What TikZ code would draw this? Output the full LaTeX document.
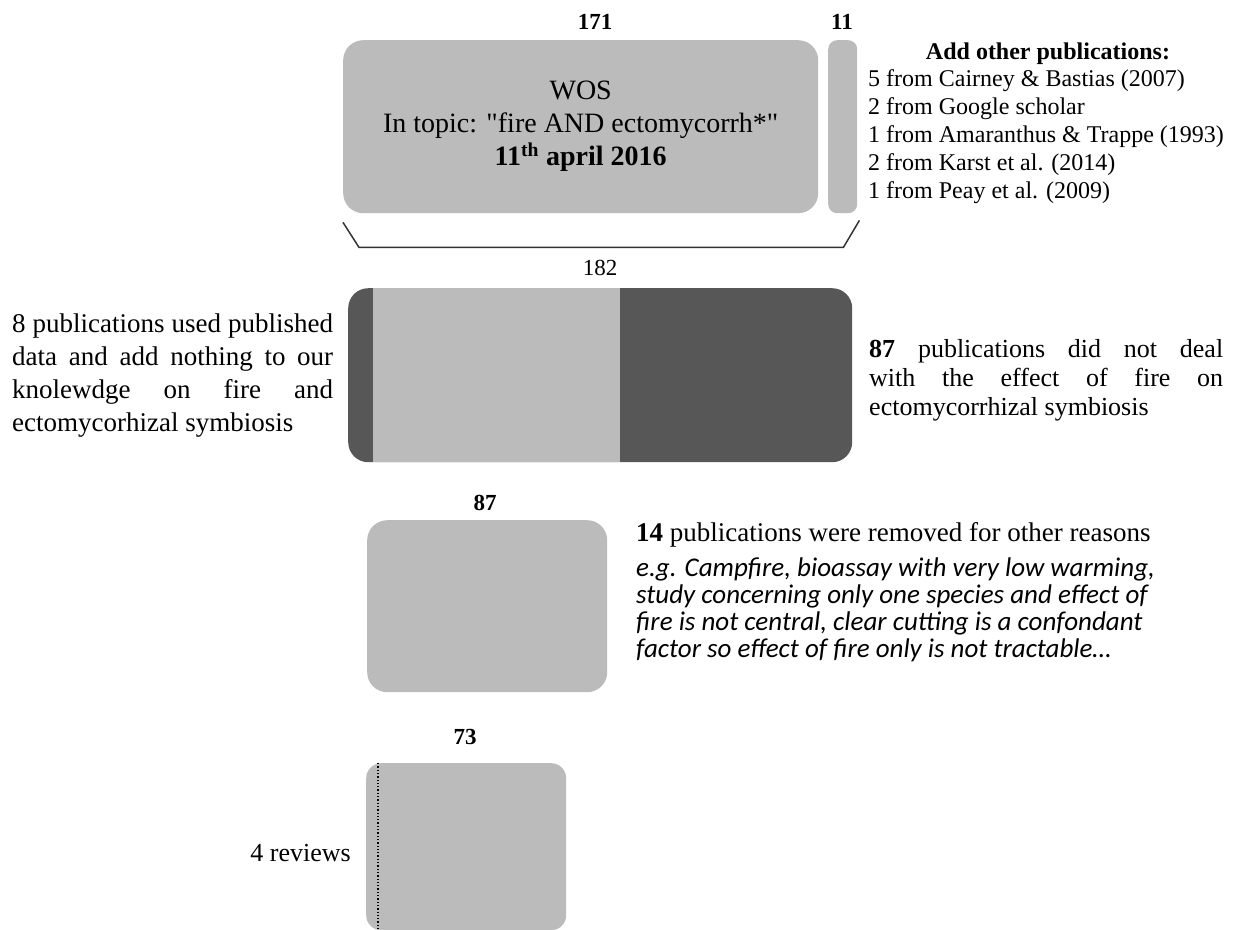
\documentclass[tikz,border=0pt]{standalone}
\usepackage{fontspec}
\setmainfont{Liberation Serif}
\newfontfamily\notefont{Carlito}
\usetikzlibrary{positioning,calc}
\definecolor{barlight}{HTML}{BBBBBB}
\definecolor{bardark}{HTML}{575757}

\begin{document}
\begin{tikzpicture}[x=1pt,y=-1pt,
  bar/.style={fill=barlight, rounded corners=20pt, inner sep=0pt, anchor=north west},
  num/.style={font=\bfseries\fontsize{23}{27}\selectfont, inner sep=0pt},
  note/.style={font=\fontsize{27}{33}\selectfont, align=justify, inner sep=0pt, anchor=west},
  srclist/.style={font=\fontsize{24}{28}\selectfont, align=left, inner sep=0pt, anchor=west},
  brace/.style={line width=1.5pt, black!80}]
\useasboundingbox (0,0) rectangle (1234,929);
% ----- search
\node[bar, minimum width=475pt, minimum height=173pt, align=center, font=\fontsize{28}{33}\selectfont] (wos) at (343,40) {WOS\\In topic: \textquotedbl fire AND ectomycorrh*\textquotedbl\\\textbf{11\textsuperscript{th} april 2016}};
\node[bar, rounded corners=9pt, minimum width=29pt, minimum height=173pt] (extra) at (828,40) {};
\node[num] (n171) at (595,22) {171};
\node[num] (n11) at (842,22) {11};
\node[font=\bfseries\fontsize{24}{28}\selectfont, inner sep=0pt] (addhd) at (1048,54) {Add other publications:};
\node[srclist] (srcs) at (868,137) {5 from Cairney \& Bastias (2007)\\2 from Google scholar\\1 from Amaranthus \& Trappe (1993)\\2 from Karst et al. (2014)\\1 from Peay et al. (2009)};
\draw[brace] ($(wos.south west)+(0,9)$) -- ($(wos.south west)+(16,34)$) -- ($(extra.south east)+(-14,34)$) -- ($(extra.south east)+(2,7)$);
% ----- pooled
\node[bar, fill=bardark, minimum width=504pt, minimum height=174pt] (pool) at (348,288) {};
\node[bar, sharp corners, minimum width=247pt, minimum height=174pt] (kept) at ($(pool.north west)+(25,0)$) {};
\node[num, font=\fontsize{23}{27}\selectfont, above=12pt of pool] (n182) {182};
\node[note, text width=321pt] (dupl) at (12,376) {8 publications used published\linebreak data and add nothing to our\linebreak knolewdge on fire and\linebreak ectomycorhizal symbiosis};
\node[note, font=\fontsize{26}{29}\selectfont, text width=354pt] (offtopic) at (869,380) {\textbf{87} publications did not deal\linebreak with the effect of fire on\linebreak ectomycorrhizal symbiosis};
% ----- screened
\node[bar, minimum width=240pt, minimum height=172pt] (screen) at (367,520) {};
\node[num] (n87) at (485,503) {87};
\node[note, align=left] (other) at (636,535) {\textbf{14} publications were removed for other reasons};
\node[note, align=left, font=\notefont\itshape\fontsize{27}{27}\selectfont] (examples) at (636,610) {e.g. Campfire, bioassay with very low warming,\\study concerning only one species and effect of\\fire is not central, clear cutting is a confondant\\factor so effect of fire only is not tractable\ldots};
% ----- retained
\node[bar, rounded corners=15pt, minimum width=200pt, minimum height=167pt] (final) at (366,763) {};
\draw[dotted, line width=1.3pt] ($(final.north west)+(12,0)$) -- ($(final.south west)+(12,0)$);
\node[num] (n73) at (465,737) {73};
\node[note, align=left, anchor=east, font=\fontsize{26}{30}\selectfont] (reviews) at (351,853) {4 reviews};
\end{tikzpicture}
\end{document}
